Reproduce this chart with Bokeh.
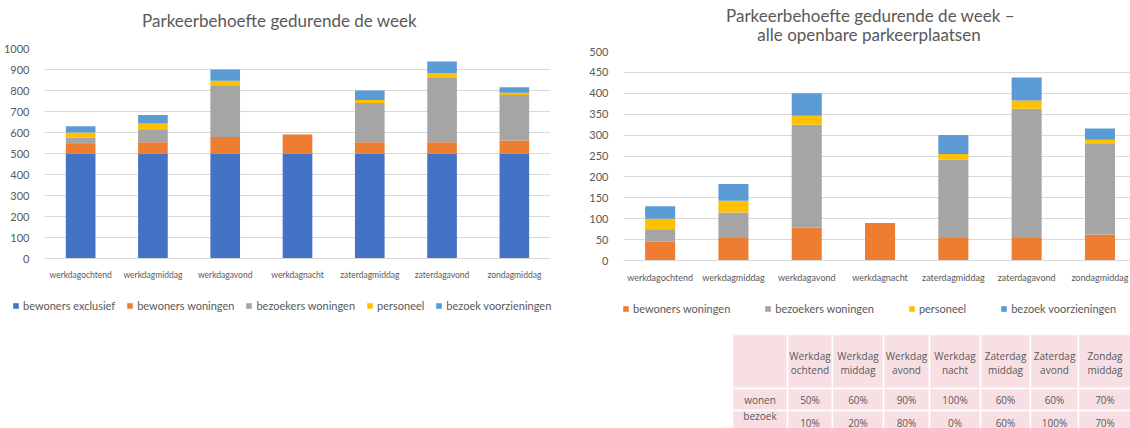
from bokeh.plotting import figure
from bokeh.models import ColumnDataSource, Range1d, FixedTicker, Legend, LegendItem
from bokeh.layouts import row, column
from bokeh.embed import file_html
from bokeh.resources import INLINE
from bokeh.core.properties import value

# ---------------- data ----------------
categories = ["werkdagochtend", "werkdagmiddag", "werkdagavond", "werkdagnacht",
              "zaterdagmiddag", "zaterdagavond", "zondagmiddag"]
bewoners_exclusief = [500, 500, 500, 500, 500, 500, 500]
bewoners_woningen = [45, 54, 79, 90, 54, 54, 62]
bezoekers_woningen = [30, 61, 246, 0, 187, 309, 217]
personeel = [25, 28, 21, 0, 14, 20, 10]
bezoek_voorzieningen = [30, 40, 54, 0, 45, 55, 27]

left_ticks = [0, 100, 200, 300, 400, 500, 600, 700, 800, 900, 1000]
right_ticks = [0, 50, 100, 150, 200, 250, 300, 350, 400, 450, 500]

series_names = ["bewoners exclusief", "bewoners woningen", "bezoekers woningen",
                "personeel", "bezoek voorzieningen"]
series_colors = ["#4472C4", "#ED7D31", "#A5A5A5", "#FFC000", "#5B9BD5"]

left_title = ["Parkeerbehoefte gedurende de week"]
right_title = ["Parkeerbehoefte gedurende de week \u2013", "alle openbare parkeerplaatsen"]

table_head_1 = ["Werkdag", "Werkdag", "Werkdag", "Werkdag", "Zaterdag", "Zaterdag", "Zondag"]
table_head_2 = ["ochtend", "middag", "avond", "nacht", "middag", "avond", "middag"]
pct_wonen = ["50%", "60%", "90%", "100%", "60%", "60%", "70%"]
pct_bezoek_wonen = ["10%", "20%", "80%", "0%", "60%", "100%", "70%"]
row_label_1 = ["wonen", "bezoek"]
row_label_2 = ["wonen"]

FONT = "Lato"
TXT = "#595959"
GRID = "#D9D9D9"


def blank(width, height):
    p = figure(width=width, height=height, output_backend="svg", toolbar_location=None,
               x_range=Range1d(0, width), y_range=Range1d(height, 0), min_border=0,
               frame_align=False)
    p.axis.visible = False
    p.grid.visible = False
    p.outline_line_color = None
    p.background_fill_color = "white"
    p.border_fill_color = "white"
    return p


def stack_source(series):
    data = {"x": list(range(len(categories)))}
    keys = []
    for i, s in enumerate(series):
        k = "s%d" % i
        data[k] = s
        keys.append(k)
    return ColumnDataSource(data), keys


def make_title(lines, width, height, xs, ys, size):
    p = blank(width, height)
    p.text(x=xs, y=ys, text=lines, text_align="center", text_baseline="middle",
           text_font=value(FONT), text_font_size=size, text_color=TXT)
    return p


def make_chart(series, colors, ymax, ticks, width, height, bl, br, bt, bb, xend, cat_font):
    src, keys = stack_source(series)
    xs = list(range(len(categories)))
    p = figure(width=width, height=height, output_backend="svg", toolbar_location=None,
               x_range=Range1d(-0.5, xend), y_range=Range1d(0, ymax),
               min_border_left=bl, min_border_right=br, min_border_top=bt,
               min_border_bottom=bb)
    p.outline_line_color = None
    p.background_fill_color = "white"
    p.border_fill_color = "white"
    p.vbar_stack(stackers=keys, x="x", width=0.41, fill_color=colors,
                 line_color=None, source=src)
    p.yaxis.ticker = FixedTicker(ticks=ticks)
    p.yaxis.axis_line_color = None
    p.yaxis.major_tick_line_color = None
    p.yaxis.minor_tick_line_color = None
    p.yaxis.major_label_text_color = TXT
    p.yaxis.major_label_text_font = FONT
    p.yaxis.major_label_text_font_size = "11px"
    p.yaxis.major_label_standoff = 9
    p.xaxis.ticker = FixedTicker(ticks=xs)
    p.xaxis.major_label_overrides = {i: c for i, c in enumerate(categories)}
    p.xaxis.axis_line_color = GRID
    p.xaxis.major_tick_line_color = None
    p.xaxis.minor_tick_line_color = None
    p.xaxis.major_label_text_color = TXT
    p.xaxis.major_label_text_font = FONT
    p.xaxis.major_label_text_font_size = cat_font
    p.xaxis.major_label_standoff = 5
    p.xgrid.visible = False
    p.ygrid.grid_line_color = GRID
    return p


def make_legend(series, names, colors, width, height, loc, spacing, font_size):
    # legend strip: its proxy bars lie far outside the visible x range
    src, keys = stack_source(series)
    p = figure(width=width, height=height, output_backend="svg", toolbar_location=None,
               x_range=Range1d(-1000, -990), y_range=Range1d(0, 1), min_border=0,
               frame_align=False)
    p.axis.visible = False
    p.grid.visible = False
    p.outline_line_color = None
    p.background_fill_color = "white"
    p.border_fill_color = "white"
    rs = p.vbar_stack(stackers=keys, x="x", width=0.41, fill_color=colors,
                      line_color=None, source=src)
    items = [LegendItem(label=n, renderers=[r]) for n, r in zip(names, rs)]
    leg = Legend(items=items, orientation="horizontal", location=loc,
                 glyph_width=7, glyph_height=7, label_standoff=4, spacing=spacing,
                 padding=0, margin=0, border_line_color=None, background_fill_alpha=0,
                 label_text_font=FONT, label_text_font_size=font_size,
                 label_text_color=TXT, label_height=14)
    p.add_layout(leg)
    return p


left_series = [bewoners_exclusief, bewoners_woningen, bezoekers_woningen, personeel,
               bezoek_voorzieningen]
right_series = [bewoners_woningen, bezoekers_woningen, personeel, bezoek_voorzieningen]

left_t = make_title(left_title, 575, 40, [279], [20], "17px")
left = make_chart(left_series, series_colors, 1000, left_ticks,
                  575, 250, 42, 25, 8, 32, 6.5, "8.5px")
left_leg = make_legend(left_series, series_names, series_colors, 575, 138,
                       (12, 116), 11, "11px")

right_t = make_title(right_title, 555, 44, [295, 293.5], [14.5, 34], "17px")
right = make_chart(right_series, series_colors[1:], 500, right_ticks,
                   555, 246, 48, 0, 7, 30, -0.5 + 507 / 73.3, "9px")
right_leg = make_legend(right_series, series_names[1:], series_colors[1:], 555, 44,
                        (47, 19), 34, "11px")

# ---------------- table ----------------
tw, th = 555, 94
tb = blank(tw, th)
col_edges = [157, 212, 257, 308, 354, 405, 455, 503, 556]
row_edges = [0, 54, 76, 104]
L, R, T, B = [], [], [], []
for ri in range(len(row_edges) - 1):
    for ci in range(len(col_edges) - 1):
        L.append(col_edges[ci]); R.append(col_edges[ci + 1])
        T.append(row_edges[ri]); B.append(row_edges[ri + 1])
tb.quad(left=L, right=R, top=T, bottom=B, fill_color="#F7DFE3", line_color="white",
        line_width=1.5)

centers = [(col_edges[i] + col_edges[i + 1]) / 2 for i in range(1, len(col_edges) - 1)]
tfont = value("Open Sans")
tsize = "10px"
tcol = "#5A5A5A"
tb.text(x=centers, y=[21] * len(centers), text=table_head_1, text_align="center",
        text_baseline="middle", text_font=tfont, text_font_size=tsize, text_color=tcol)
tb.text(x=centers, y=[35] * len(centers), text=table_head_2, text_align="center",
        text_baseline="middle", text_font=tfont, text_font_size=tsize, text_color=tcol)
tb.text(x=centers, y=[65] * len(centers), text=pct_wonen, text_align="center",
        text_baseline="middle", text_font=tfont, text_font_size=tsize, text_color=tcol)
tb.text(x=centers, y=[88] * len(centers), text=pct_bezoek_wonen, text_align="center",
        text_baseline="middle", text_font=tfont, text_font_size=tsize, text_color=tcol)
lab_x = (col_edges[0] + col_edges[1]) / 2
tb.text(x=[lab_x, lab_x], y=[65, 81], text=row_label_1, text_align="center",
        text_baseline="middle", text_font=tfont, text_font_size=tsize, text_color=tcol)
tb.text(x=[lab_x], y=[95], text=row_label_2, text_align="center",
        text_baseline="middle", text_font=tfont, text_font_size=tsize, text_color=tcol)

layout = row(column(left_t, left, left_leg), column(right_t, right, right_leg, tb))
open("out.html", "w").write(file_html(layout, INLINE))
